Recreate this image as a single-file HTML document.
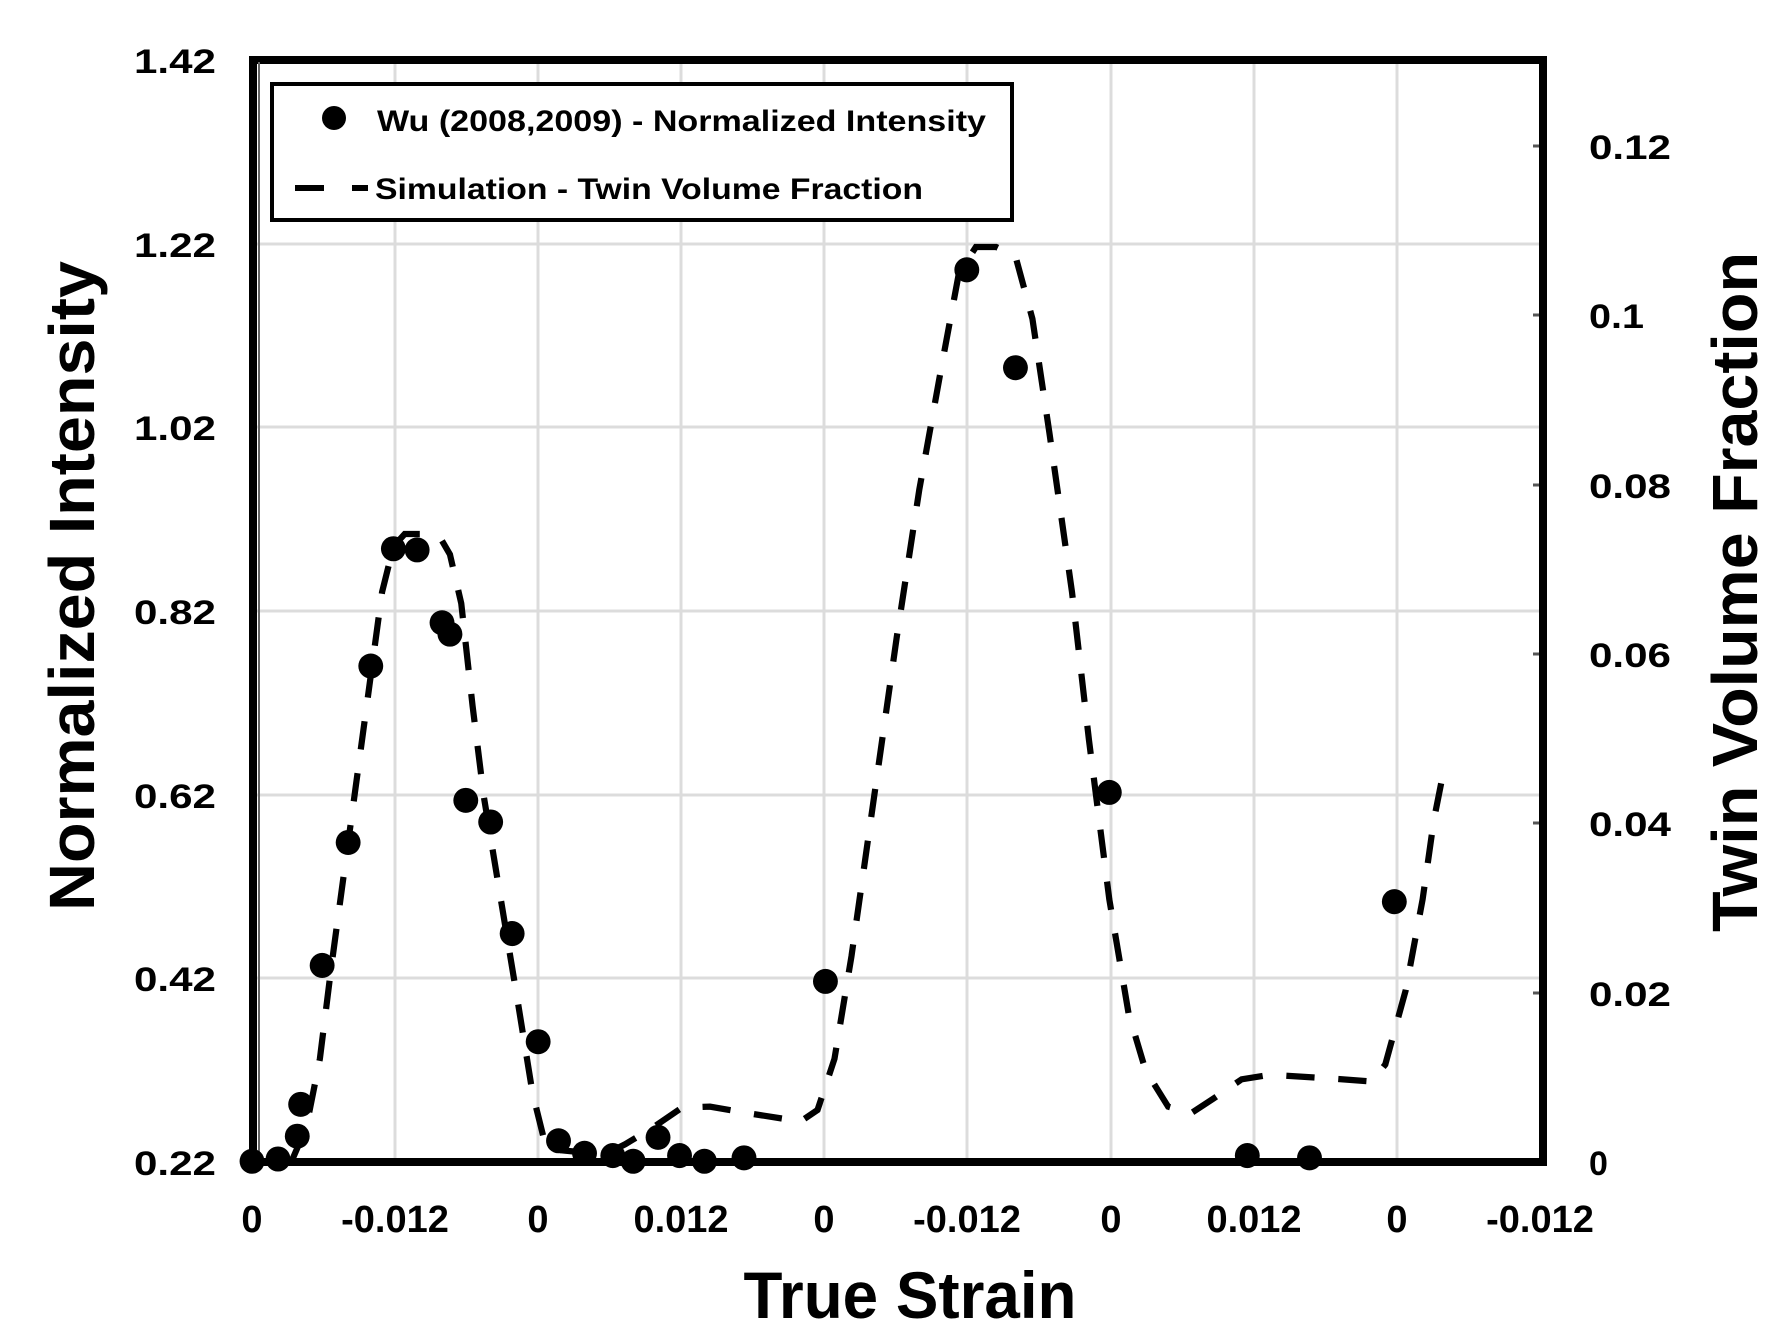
<!DOCTYPE html>
<html><head><meta charset="utf-8"><style>
html,body{margin:0;padding:0;background:#fff;}
svg{display:block;}
text{font-family:"Liberation Sans",sans-serif;font-weight:bold;fill:#000;}
</style></head><body>
<svg width="1784" height="1342" viewBox="0 0 1784 1342" xmlns="http://www.w3.org/2000/svg">
<rect width="1784" height="1342" fill="#fff"/>
<!-- gridlines -->
<g stroke="#dcdcdc" stroke-width="3">
<line x1="252" y1="244" x2="1547" y2="244"/>
<line x1="252" y1="427" x2="1547" y2="427"/>
<line x1="252" y1="611" x2="1547" y2="611"/>
<line x1="252" y1="795" x2="1547" y2="795"/>
<line x1="252" y1="978" x2="1547" y2="978"/>
<line x1="395" y1="60" x2="395" y2="1162"/>
<line x1="538" y1="60" x2="538" y2="1162"/>
<line x1="681" y1="60" x2="681" y2="1162"/>
<line x1="824" y1="60" x2="824" y2="1162"/>
<line x1="967" y1="60" x2="967" y2="1162"/>
<line x1="1111" y1="60" x2="1111" y2="1162"/>
<line x1="1254" y1="60" x2="1254" y2="1162"/>
<line x1="1397" y1="60" x2="1397" y2="1162"/>
</g>
<!-- right ticks -->
<g stroke="#555" stroke-width="3">
<line x1="1533" y1="146" x2="1543" y2="146"/>
<line x1="1533" y1="315" x2="1543" y2="315"/>
<line x1="1533" y1="485" x2="1543" y2="485"/>
<line x1="1533" y1="654" x2="1543" y2="654"/>
<line x1="1533" y1="823" x2="1543" y2="823"/>
<line x1="1533" y1="993" x2="1543" y2="993"/>
</g>
<!-- frame -->
<rect x="253" y="60" width="1290" height="1102" fill="none" stroke="#000" stroke-width="8"/>
<line x1="259" y1="62" x2="259" y2="1160" stroke="#666" stroke-width="2"/>
<!-- data -->
<g transform="translate(3.2,0) scale(1.131,1.1385)">
<path fill="none" stroke="#000" stroke-width="5.5" stroke-dasharray="25 21" stroke-linecap="butt"
d="M255,1020 L268,990 L280,930 L290,850 L305,740 L320,630 L335,520 L345,480 L355,469 L375,469 L388,475 L395,487 L405,530 L415,620 L425,700 L440,790 L455,880 L468,960 L478,1000 L490,1010 L510,1012 L530,1015 L550,1005 L575,990 L600,973 L625,972 L660,978 L705,985 L720,975 L735,930 L750,840 L770,700 L790,560 L810,430 L830,320 L845,240 L860,217 L878,217 L895,225 L910,280 L925,380 L945,520 L960,650 L978,790 L995,890 L1010,940 L1030,972 L1050,978 L1070,965 L1095,948 L1120,944 L1170,947 L1210,950 L1222,935 L1240,870 L1255,790 L1265,720 L1275,670"/>
<g fill="#000">
<ellipse cx="220" cy="1020" rx="11" ry="11"/><ellipse cx="243" cy="1018" rx="11" ry="11"/>
<ellipse cx="260" cy="998" rx="11" ry="11"/><ellipse cx="263" cy="970" rx="11" ry="11"/>
<ellipse cx="282" cy="848" rx="11" ry="11"/><ellipse cx="305" cy="740" rx="11" ry="11"/>
<ellipse cx="325" cy="585" rx="11" ry="11"/><ellipse cx="345" cy="482" rx="11" ry="11"/>
<ellipse cx="366" cy="483" rx="11" ry="11"/><ellipse cx="388" cy="547" rx="11" ry="11"/>
<ellipse cx="395" cy="557" rx="11" ry="11"/><ellipse cx="409" cy="703" rx="11" ry="11"/>
<ellipse cx="431" cy="722" rx="11" ry="11"/><ellipse cx="450" cy="820" rx="11" ry="11"/>
<ellipse cx="473" cy="915" rx="11" ry="11"/><ellipse cx="491" cy="1002" rx="11" ry="11"/>
<ellipse cx="514" cy="1013" rx="11" ry="11"/><ellipse cx="539" cy="1015" rx="11" ry="11"/>
<ellipse cx="557" cy="1020" rx="11" ry="11"/><ellipse cx="579" cy="999" rx="11" ry="11"/>
<ellipse cx="598" cy="1015" rx="11" ry="11"/><ellipse cx="620" cy="1020" rx="11" ry="11"/>
<ellipse cx="655" cy="1017" rx="11" ry="11"/><ellipse cx="727" cy="862" rx="11" ry="11"/>
<ellipse cx="852" cy="237" rx="11" ry="11"/><ellipse cx="895" cy="323" rx="11" ry="11"/>
<ellipse cx="978" cy="696" rx="11" ry="11"/><ellipse cx="1100" cy="1015" rx="11" ry="11"/>
<ellipse cx="1155" cy="1017" rx="11" ry="11"/><ellipse cx="1230" cy="792" rx="11" ry="11"/>
</g>
</g>
<!-- legend -->
<rect x="272" y="84" width="740" height="136" fill="#fff" stroke="#000" stroke-width="4"/>
<circle cx="334" cy="118" r="12" fill="#000"/>
<text x="377" y="131" font-size="30" textLength="609" lengthAdjust="spacingAndGlyphs">Wu (2008,2009) - Normalized Intensity</text>
<line x1="295" y1="188" x2="324" y2="188" stroke="#000" stroke-width="6"/>
<line x1="352" y1="188" x2="368" y2="188" stroke="#000" stroke-width="6"/>
<text x="375" y="199" font-size="30" textLength="548" lengthAdjust="spacingAndGlyphs">Simulation - Twin Volume Fraction</text>
<!-- left y labels -->
<g font-size="34" text-anchor="end">
<text x="216" y="73" textLength="82" lengthAdjust="spacingAndGlyphs">1.42</text>
<text x="216" y="257" textLength="82" lengthAdjust="spacingAndGlyphs">1.22</text>
<text x="216" y="440" textLength="82" lengthAdjust="spacingAndGlyphs">1.02</text>
<text x="216" y="624" textLength="82" lengthAdjust="spacingAndGlyphs">0.82</text>
<text x="216" y="808" textLength="82" lengthAdjust="spacingAndGlyphs">0.62</text>
<text x="216" y="991" textLength="82" lengthAdjust="spacingAndGlyphs">0.42</text>
<text x="216" y="1175" textLength="82" lengthAdjust="spacingAndGlyphs">0.22</text>
</g>
<!-- right y labels -->
<g font-size="34">
<text x="1589" y="159" textLength="82" lengthAdjust="spacingAndGlyphs">0.12</text>
<text x="1589" y="328" textLength="55" lengthAdjust="spacingAndGlyphs">0.1</text>
<text x="1589" y="498" textLength="82" lengthAdjust="spacingAndGlyphs">0.08</text>
<text x="1589" y="667" textLength="82" lengthAdjust="spacingAndGlyphs">0.06</text>
<text x="1589" y="836" textLength="82" lengthAdjust="spacingAndGlyphs">0.04</text>
<text x="1589" y="1006" textLength="82" lengthAdjust="spacingAndGlyphs">0.02</text>
<text x="1589" y="1175">0</text>
</g>
<!-- x labels -->
<g font-size="38" text-anchor="middle" style="font-weight:normal">
<text x="252" y="1232">0</text>
<text x="395" y="1232">-0.012</text>
<text x="538" y="1232">0</text>
<text x="681" y="1232">0.012</text>
<text x="824" y="1232">0</text>
<text x="967" y="1232">-0.012</text>
<text x="1111" y="1232">0</text>
<text x="1254" y="1232">0.012</text>
<text x="1397" y="1232">0</text>
<text x="1540" y="1232">-0.012</text>
</g>
<!-- axis titles -->
<text x="910" y="1318" font-size="66" text-anchor="middle" textLength="333" lengthAdjust="spacingAndGlyphs">True Strain</text>
<text transform="translate(94,586) rotate(-90)" font-size="64" text-anchor="middle" textLength="650" lengthAdjust="spacingAndGlyphs">Normalized Intensity</text>
<text transform="translate(1757,592) rotate(-90)" font-size="64" text-anchor="middle" textLength="680" lengthAdjust="spacingAndGlyphs">Twin Volume Fraction</text>
</svg>
</body></html>
